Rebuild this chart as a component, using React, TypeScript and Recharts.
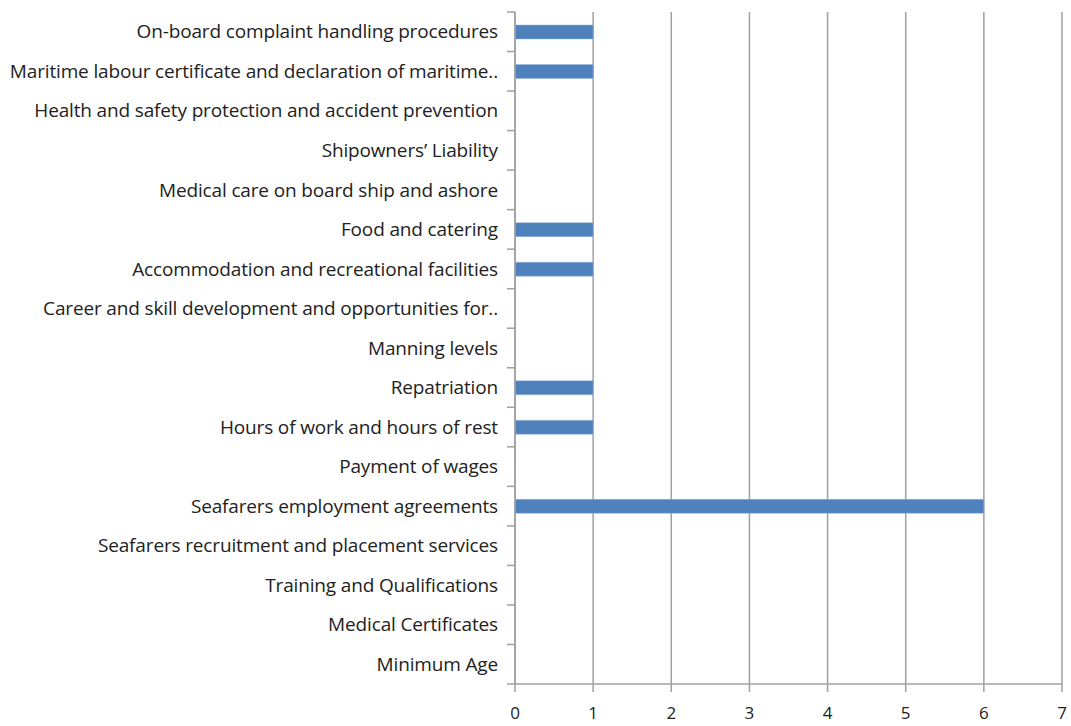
import React from 'react';
import { BarChart, Bar, XAxis, YAxis, CartesianGrid } from 'recharts';

const categories = [
  'On-board complaint handling procedures',
  'Maritime labour certificate and declaration of maritime..',
  'Health and safety protection and accident prevention',
  'Shipowners\u2019 Liability',
  'Medical care on board ship and ashore',
  'Food and catering',
  'Accommodation and recreational facilities',
  'Career and skill development and opportunities for..',
  'Manning levels',
  'Repatriation',
  'Hours of work and hours of rest',
  'Payment of wages',
  'Seafarers employment agreements',
  'Seafarers recruitment and placement services',
  'Training and Qualifications',
  'Medical Certificates',
  'Minimum Age',
];
const counts = [1, 1, 0, 0, 0, 1, 1, 0, 0, 1, 1, 0, 6, 0, 0, 0, 0];
const xTicks = [0, 1, 2, 3, 4, 5, 6, 7];

const data = categories.map((name, i) => ({ name, value: counts[i] }));

const FONT = '"Open Sans", sans-serif';
const GRID = '#a0a0a0';
const PLOT_H = 672;
const HALF_BAND = PLOT_H / categories.length / 2;

function CategoryTick(props: any) {
  const { x, y, payload, index } = props;
  return (
    <g>
      <line x1={x - 8} x2={x} y1={y - HALF_BAND} y2={y - HALF_BAND} stroke={GRID} strokeWidth={1.5} />
      {index === categories.length - 1 && (
        <line x1={x - 8} x2={x} y1={y + HALF_BAND} y2={y + HALF_BAND} stroke={GRID} strokeWidth={1.5} />
      )}
      <text
        x={x - 17}
        y={y}
        dy="0.35em"
        textAnchor="end"
        fontFamily={FONT}
        fontSize={19}
        letterSpacing={-0.15}
        fill="#222"
      >
        {payload.value}
      </text>
    </g>
  );
}

export default function App() {
  return (
    <div style={{ position: 'absolute', left: 8, top: 8, width: 1063, height: 718 }}>
      <BarChart
        width={1063}
        height={718}
        data={data}
        layout="vertical"
        margin={{ top: 4, right: 9, bottom: 0, left: 0 }}
        barCategoryGap={0}
      >
        <CartesianGrid horizontal={false} stroke={GRID} strokeWidth={1.5} />
        <XAxis
          type="number"
          domain={[0, 7]}
          ticks={xTicks}
          height={42}
          tickSize={8}
          tickMargin={15}
          stroke={GRID}
          strokeWidth={1.5}
          tick={{ fill: '#222', fontFamily: FONT, fontSize: 17 }}
        />
        <YAxis
          type="category"
          dataKey="name"
          width={507}
          interval={0}
          tickSize={0}
          tickMargin={0}
          stroke={GRID}
          strokeWidth={1.5}
          tick={<CategoryTick />}
        />
        <Bar dataKey="value" fill="#4f81bd" stroke="#9bb7dd" strokeWidth={0.5} barSize={14} isAnimationActive={false} />
      </BarChart>
    </div>
  );
}
